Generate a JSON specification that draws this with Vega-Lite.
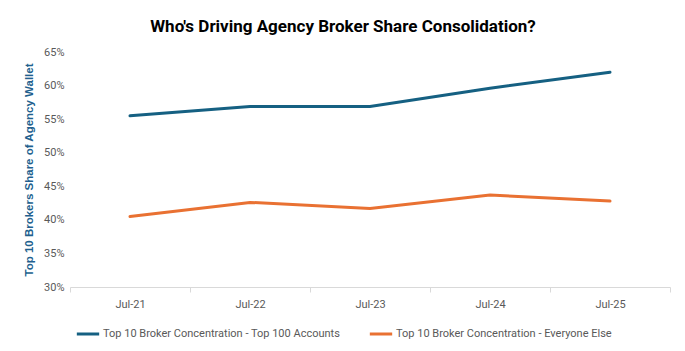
{
  "$schema": "https://vega.github.io/schema/vega-lite/v6.json",
  "width": 600,
  "height": 235,
  "autosize": "none",
  "padding": {"left": 70, "top": 52, "right": 15, "bottom": 64},
  "background": "white",
  "title": {
    "text": "Who's Driving Agency Broker Share Consolidation?",
    "fontSize": 17,
    "fontWeight": "bold",
    "font": "Liberation Sans Narrow, Roboto, sans-serif",
    "color": "#000000",
    "anchor": "middle",
    "dx": -27,
    "offset": 10
  },
  "data": {
    "values": [
      {"month": "Jul-21", "series": "Top 10 Broker Concentration - Top 100 Accounts", "share": 0.555},
      {"month": "Jul-22", "series": "Top 10 Broker Concentration - Top 100 Accounts", "share": 0.569},
      {"month": "Jul-23", "series": "Top 10 Broker Concentration - Top 100 Accounts", "share": 0.569},
      {"month": "Jul-24", "series": "Top 10 Broker Concentration - Top 100 Accounts", "share": 0.596},
      {"month": "Jul-25", "series": "Top 10 Broker Concentration - Top 100 Accounts", "share": 0.620},
      {"month": "Jul-21", "series": "Top 10 Broker Concentration - Everyone Else", "share": 0.405},
      {"month": "Jul-22", "series": "Top 10 Broker Concentration - Everyone Else", "share": 0.426},
      {"month": "Jul-23", "series": "Top 10 Broker Concentration - Everyone Else", "share": 0.417},
      {"month": "Jul-24", "series": "Top 10 Broker Concentration - Everyone Else", "share": 0.437},
      {"month": "Jul-25", "series": "Top 10 Broker Concentration - Everyone Else", "share": 0.428}
    ]
  },
  "mark": {"type": "line", "strokeWidth": 3, "strokeCap": "round"},
  "encoding": {
    "x": {
      "field": "month",
      "type": "ordinal",
      "bandPosition": 0.5,
      "scale": {"type": "band", "paddingInner": 0, "paddingOuter": 0},
      "axis": {
        "title": null,
        "labelAngle": 0,
        "domainColor": "#d9d9d9",
        "tickColor": "#d9d9d9",
        "tickBand": "extent",
        "tickSize": 5,
        "labelPadding": 6,
        "labelColor": "#595959",
        "labelFontSize": 11,
        "labelFont": "Liberation Sans Narrow, Roboto, sans-serif",
        "grid": false
      }
    },
    "y": {
      "field": "share",
      "type": "quantitative",
      "scale": {"domain": [0.30, 0.65], "nice": false, "zero": false},
      "axis": {
        "title": "Top 10 Brokers Share of Agency Wallet",
        "titleFontSize": 11.5,
        "titleFontWeight": "bold",
        "titleColor": "#215f8e",
        "titleFont": "Liberation Sans, Roboto, sans-serif",
        "titlePadding": 9,
        "format": ".0%",
        "values": [0.30, 0.35, 0.40, 0.45, 0.50, 0.55, 0.60, 0.65],
        "domain": false,
        "ticks": false,
        "grid": false,
        "labelPadding": 6,
        "labelColor": "#595959",
        "labelFontSize": 11,
        "labelFont": "Liberation Sans Narrow, Roboto, sans-serif"
      }
    },
    "color": {
      "field": "series",
      "type": "nominal",
      "scale": {
        "domain": ["Top 10 Broker Concentration - Top 100 Accounts", "Top 10 Broker Concentration - Everyone Else"],
        "range": ["#156082", "#E97132"]
      },
      "legend": {
        "title": null,
        "orient": "none",
        "legendX": 5,
        "legendY": 269,
        "direction": "horizontal",
        "symbolType": "stroke",
        "symbolStrokeWidth": 3,
        "symbolSize": 500,
        "labelLimit": 400,
        "labelFontSize": 11,
        "labelColor": "#595959",
        "labelFont": "Liberation Sans Narrow, Roboto, sans-serif",
        "columnPadding": 22,
        "labelOffset": 2
      }
    }
  },
  "config": {"view": {"stroke": null}}
}
